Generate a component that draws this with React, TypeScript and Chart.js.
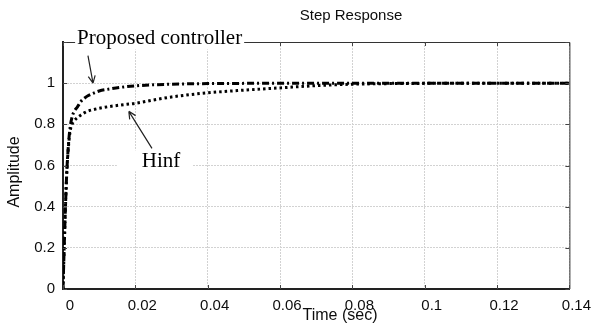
import React, { useEffect, useRef } from "react";
import { Chart, registerables } from "chart.js";

Chart.register(...registerables);

// ---- data ----
const timeSec = [
  0, 0.0005, 0.001, 0.0015, 0.002, 0.0025, 0.003, 0.004, 0.005, 0.006, 0.007,
  0.0085, 0.01, 0.013, 0.016, 0.02, 0.025, 0.03, 0.04, 0.05, 0.06, 0.07, 0.08,
  0.1, 0.12, 0.14,
];
const proposedAmp = [
  0, 0.3, 0.55, 0.7, 0.79, 0.835, 0.86, 0.885, 0.912, 0.928, 0.94, 0.952,
  0.962, 0.972, 0.98, 0.987, 0.992, 0.995, 0.998, 0.999, 1, 1, 1, 1, 1, 1,
];
const hinfAmp = [
  0, 0.3, 0.55, 0.69, 0.77, 0.8, 0.815, 0.833, 0.846, 0.857, 0.865, 0.872,
  0.878, 0.887, 0.894, 0.902, 0.918, 0.933, 0.953, 0.966, 0.977, 0.988, 0.995,
  0.999, 1, 1,
];
const xTickValues = [0, 0.02, 0.04, 0.06, 0.08, 0.1, 0.12, 0.14];
const yTickValues = [0, 0.2, 0.4, 0.6, 0.8, 1, 1.2];
const yLabelledMax = 1;

const chartTitle = "Step Response";
const xTitle = "Time (sec)";
const yTitle = "Amplitude";
const seriesNames = ["Proposed controller", "Hinf"];

// annotation anchors in data units [time, amplitude]
const proposedLabelAt = [0.0039, 1.188];
const proposedArrowFrom = [0.0069, 1.134];
const proposedArrowTo = [0.0083, 1.0];
const hinfLabelAt = [0.0218, 0.591];
const hinfArrowFrom = [0.0246, 0.683];
const hinfArrowTo = [0.0182, 0.863];

const SANS = "'Liberation Sans', Arial, Helvetica, sans-serif";
const SERIF = "'Liberation Serif', 'Times New Roman', serif";
const INK = "#0d0d0d";

function fmt(v: number) {
  return String(Number(v.toFixed(2)));
}

const decorPlugin = {
  id: "decor",
  afterDatasetsDraw(chart: any) {
    const { ctx, chartArea: a, scales } = chart;
    const xs = scales.x;
    const ys = scales.y;
    const px = (p: number[]) => [xs.getPixelForValue(p[0]), ys.getPixelForValue(p[1])];

    ctx.save();
    // frame top & right
    ctx.strokeStyle = "#333";
    ctx.lineWidth = 1;
    ctx.setLineDash([]);
    ctx.beginPath();
    ctx.moveTo(a.left, a.top + 0.5);
    ctx.lineTo(a.right + 0.5, a.top + 0.5);
    ctx.lineTo(a.right + 0.5, a.bottom);
    ctx.stroke();

    // inward ticks
    ctx.strokeStyle = "#444";
    ctx.beginPath();
    for (const v of xTickValues) {
      const x = Math.round(xs.getPixelForValue(v)) + 0.5;
      ctx.moveTo(x, a.bottom);
      ctx.lineTo(x, a.bottom - 4);
      ctx.moveTo(x, a.top);
      ctx.lineTo(x, a.top + 4);
    }
    for (const v of yTickValues) {
      const y = Math.round(ys.getPixelForValue(v)) + 0.5;
      ctx.moveTo(a.left, y);
      ctx.lineTo(a.left + 4, y);
      ctx.moveTo(a.right, y);
      ctx.lineTo(a.right - 4, y);
    }
    ctx.stroke();

    // titles
    ctx.fillStyle = INK;
    ctx.font = `15px ${SANS}`;
    ctx.textAlign = "center";
    ctx.textBaseline = "middle";
    ctx.fillText(chartTitle, 351, 16);
    ctx.font = `16px ${SANS}`;
    ctx.fillText(xTitle, 340, 316);
    ctx.save();
    ctx.translate(15, 172);
    ctx.rotate(-Math.PI / 2);
    ctx.fillText(yTitle, 0, 0);
    ctx.restore();

    // annotations
    ctx.font = `21px ${SERIF}`;
    ctx.textAlign = "left";
    ctx.textBaseline = "alphabetic";
    const [plx, ply] = px(proposedLabelAt);
    const pw = ctx.measureText(seriesNames[0]).width;
    ctx.fillStyle = "#fff";
    ctx.fillRect(plx - 2, ply - 15, pw + 4, 20);
    const [hlx, hly] = px(hinfLabelAt);
    ctx.fillRect(hlx - 25, hly - 17, 76, 21);
    ctx.fillStyle = "#000";
    ctx.fillText(seriesNames[0], plx, ply);
    ctx.fillText(seriesNames[1], hlx, hly);

    const arrow = (from: number[], to: number[]) => {
      const [x1, y1] = px(from);
      const [x2, y2] = px(to);
      const ang = Math.atan2(y2 - y1, x2 - x1);
      ctx.strokeStyle = "#222";
      ctx.lineWidth = 1.2;
      ctx.beginPath();
      ctx.moveTo(x1, y1);
      ctx.lineTo(x2, y2);
      const h = 8;
      ctx.moveTo(x2, y2);
      ctx.lineTo(x2 - h * Math.cos(ang - 0.45), y2 - h * Math.sin(ang - 0.45));
      ctx.moveTo(x2, y2);
      ctx.lineTo(x2 - h * Math.cos(ang + 0.45), y2 - h * Math.sin(ang + 0.45));
      ctx.stroke();
    };
    arrow(proposedArrowFrom, proposedArrowTo);
    arrow(hinfArrowFrom, hinfArrowTo);
    ctx.restore();
  },
};

export default function App() {
  const ref = useRef<HTMLCanvasElement | null>(null);

  useEffect(() => {
    if (!ref.current) return;
    const chart = new Chart(ref.current, {
      type: "line",
      data: {
        datasets: [
          {
            label: seriesNames[0],
            data: timeSec.map((t, i) => ({ x: t, y: proposedAmp[i] })),
            borderColor: "#000",
            borderWidth: 3,
            borderDash: [7, 3, 2, 3],
            pointRadius: 0,
            cubicInterpolationMode: "monotone",
            fill: false,
          },
          {
            label: seriesNames[1],
            data: timeSec.map((t, i) => ({ x: t, y: hinfAmp[i] })),
            borderColor: "#000",
            borderWidth: 3,
            borderDash: [2.5, 3],
            pointRadius: 0,
            cubicInterpolationMode: "monotone",
            fill: false,
          },
        ],
      },
      options: {
        animation: false,
        responsive: true,
        maintainAspectRatio: false,
        layout: { padding: { left: 0, right: 22, top: 42, bottom: 0 } },
        plugins: {
          legend: { display: false },
          title: { display: false },
          tooltip: { enabled: false },
        },
        scales: {
          x: {
            type: "linear",
            min: 0,
            max: 0.14,
            afterFit: (s: any) => {
              s.height = 37;
            },
            afterBuildTicks: (s: any) => {
              s.ticks = xTickValues.map((v) => ({ value: v }));
            },
            ticks: {
              callback: (v: any) => fmt(Number(v)),
              font: { family: SANS, size: 15 },
              color: INK,
              padding: 8,
              labelOffset: 7,
              maxRotation: 0,
              autoSkip: false,
            },
            grid: { color: "#d2d2d2", lineWidth: 1, drawTicks: false },
            border: { display: true, color: "#222", width: 2, dash: [2, 1] },
          },
          y: {
            min: 0,
            max: 1.2,
            afterFit: (s: any) => {
              s.width = 63;
            },
            afterBuildTicks: (s: any) => {
              s.ticks = yTickValues.map((v) => ({ value: v }));
            },
            ticks: {
              callback: (v: any) => (Number(v) > yLabelledMax + 1e-9 ? "" : fmt(Number(v))),
              font: { family: SANS, size: 15 },
              color: INK,
              padding: 8,
              autoSkip: false,
            },
            grid: { color: "#d2d2d2", lineWidth: 1, drawTicks: false },
            border: { display: true, color: "#222", width: 2, dash: [2, 1] },
          },
        },
      },
      plugins: [decorPlugin],
    });
    return () => chart.destroy();
  }, []);

  return (
    <div style={{ position: "absolute", left: 0, top: 0, width: 592, height: 326, background: "#fff" }}>
      <canvas ref={ref} />
    </div>
  );
}
